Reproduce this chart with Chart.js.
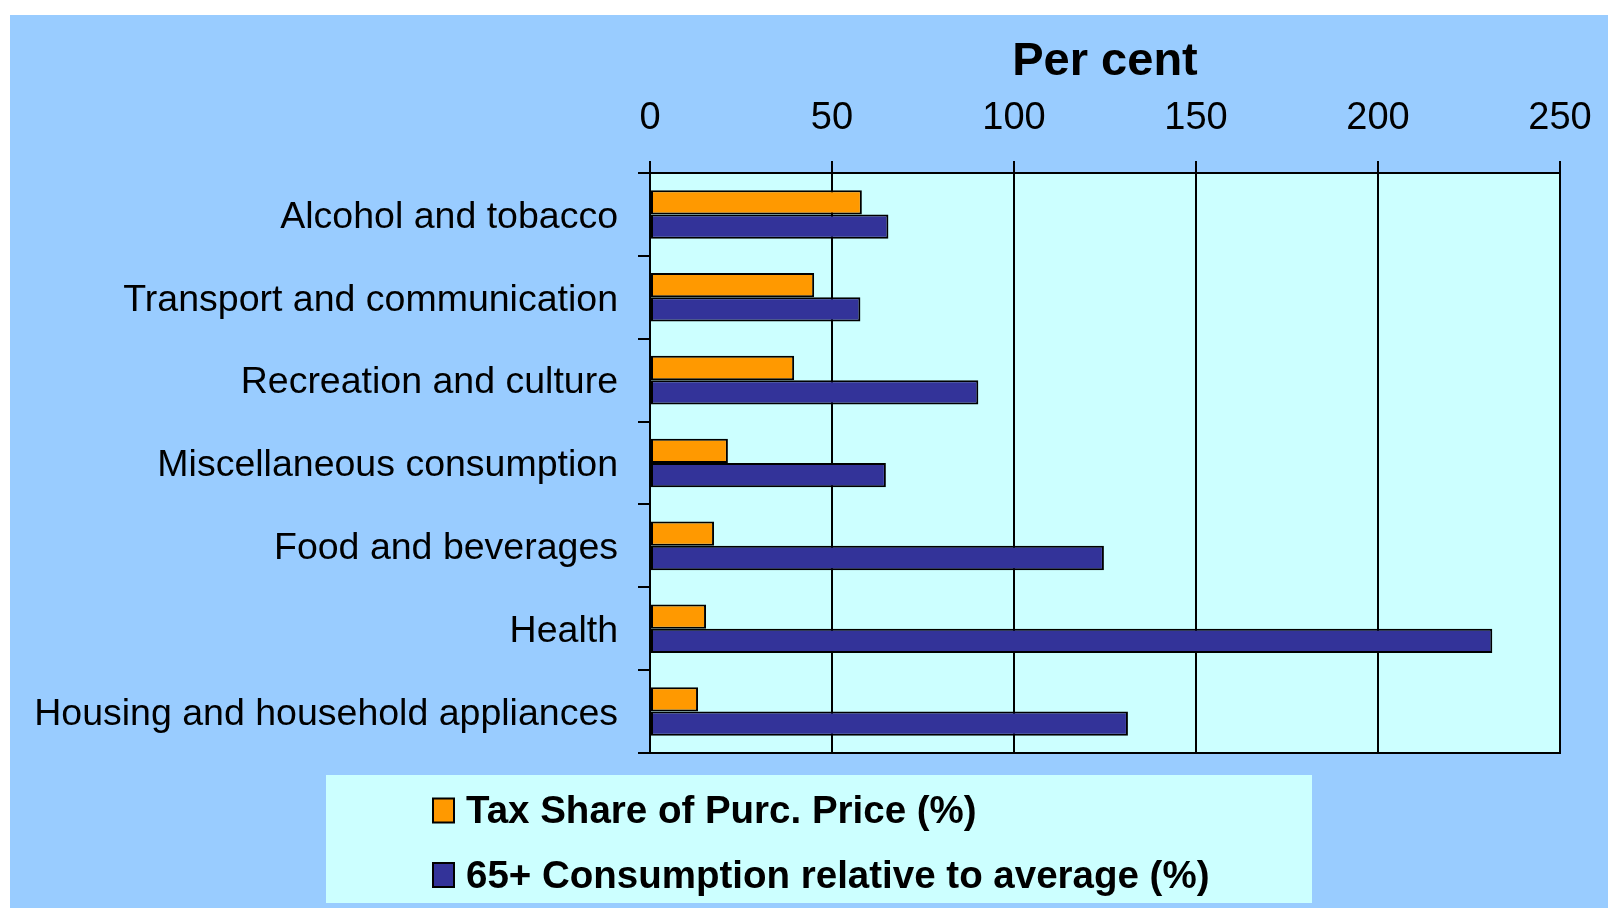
<!DOCTYPE html>
<html>
<head>
<meta charset="utf-8">
<script src="https://cdn.jsdelivr.net/npm/chart.js@4/dist/chart.umd.min.js"></script>
<style>
  html, body { margin: 0; padding: 0; background: #fff; }
  #wrap { position: relative; width: 1608px; height: 908px; }
</style>
</head>
<body>
<div id="wrap"><canvas id="chart"></canvas></div>
<script>
// data
const categories = [
  "Alcohol and tobacco",
  "Transport and communication",
  "Recreation and culture",
  "Miscellaneous consumption",
  "Food and beverages",
  "Health",
  "Housing and household appliances"
];
const taxShare = [58.2, 45.1, 39.6, 21.4, 17.6, 15.4, 13.2];
const consumption65 = [65.5, 57.8, 90.2, 64.8, 124.7, 231.4, 131.3];
const seriesLabels = ["Tax Share of Purc. Price (%)", "65+ Consumption relative to average (%)"];
const xMin = 0;
const xMax = 250;
const xStep = 50;

const FONT = "'Liberation Sans', Arial, sans-serif";
const PLOT_LEFT = 650;
const PLOT_TOP = 173;

Chart.defaults.color = "#000";
Chart.defaults.font.family = FONT;

// backgrounds, bottom border of the plot and the legend box
const decor = {
  id: "decor",
  beforeDraw(chart) {
    const c = chart.ctx;
    const a = chart.chartArea;
    c.save();
    c.fillStyle = "#ffffff";
    c.fillRect(0, 0, chart.width, chart.height);
    c.fillStyle = "#99CCFF";
    c.fillRect(10, 15, chart.width - 10, chart.height - 15);
    c.fillStyle = "#CCFFFF";
    c.fillRect(a.left, a.top, a.right - a.left, a.bottom - a.top);
    c.restore();
  },
  afterDraw(chart) {
    const c = chart.ctx;
    const a = chart.chartArea;
    c.save();
    c.strokeStyle = "#000";
    c.lineWidth = 2;
    c.beginPath();
    c.moveTo(a.left - 12, a.bottom);
    c.lineTo(a.right + 1, a.bottom);
    c.stroke();

    // legend
    c.fillStyle = "#CCFFFF";
    c.fillRect(326, 775, 986, 128);
    const rows = [810.5, 875];
    chart.data.datasets.forEach((ds, i) => {
      const y = rows[i];
      c.fillStyle = ds.backgroundColor;
      c.fillRect(433, y - 12, 21, 24);
      c.lineWidth = 2;
      c.strokeStyle = "#000";
      c.strokeRect(433, y - 12, 21, 24);
      c.fillStyle = "#000";
      c.font = "bold 38.5px " + FONT;
      c.textAlign = "left";
      c.textBaseline = "middle";
      c.fillText(ds.label, 466, y + 2);
    });
    c.restore();
  }
};

new Chart(document.getElementById("chart"), {
  type: "bar",
  data: {
    labels: categories,
    datasets: [
      {
        label: seriesLabels[0],
        data: taxShare,
        backgroundColor: "#FF9900",
        borderColor: "#000",
        borderWidth: 2,
        borderSkipped: false
      },
      {
        label: seriesLabels[1],
        data: consumption65,
        backgroundColor: "#333399",
        borderColor: "#000",
        borderWidth: 2,
        borderSkipped: false
      }
    ]
  },
  options: {
    indexAxis: "y",
    responsive: true,
    maintainAspectRatio: false,
    animation: false,
    categoryPercentage: 0.586,
    barPercentage: 1.0,
    layout: { padding: { left: 10, top: 15, right: 48, bottom: 155 } },
    plugins: {
      legend: { display: false },
      tooltip: { enabled: false }
    },
    scales: {
      x: {
        position: "top",
        min: xMin,
        max: xMax,
        ticks: {
          stepSize: xStep,
          padding: 20,
          maxRotation: 0,
          font: { size: 38 },
          color: "#000"
        },
        grid: { color: "#000", lineWidth: 2, tickLength: 12 },
        border: { display: true, color: "#000", width: 2 },
        title: {
          display: true,
          text: "Per cent",
          color: "#000",
          font: { size: 47, weight: "bold" },
          padding: { top: 19, bottom: 0 }
        },
        afterFit(scale) {
          scale.height = PLOT_TOP - 15;
          scale.paddingLeft = 0;
          scale.paddingRight = 0;
        }
      },
      y: {
        ticks: {
          autoSkip: false,
          padding: 20,
          labelOffset: 3,
          font: { size: 37.5 },
          color: "#000"
        },
        grid: {
          offset: true,
          drawOnChartArea: false,
          drawTicks: true,
          tickLength: 12,
          color: "#000",
          lineWidth: 2
        },
        border: { display: true, color: "#000", width: 2 },
        afterFit(scale) {
          scale.width = PLOT_LEFT - 10;
        }
      }
    }
  },
  plugins: [decor]
});
</script>
</body>
</html>
